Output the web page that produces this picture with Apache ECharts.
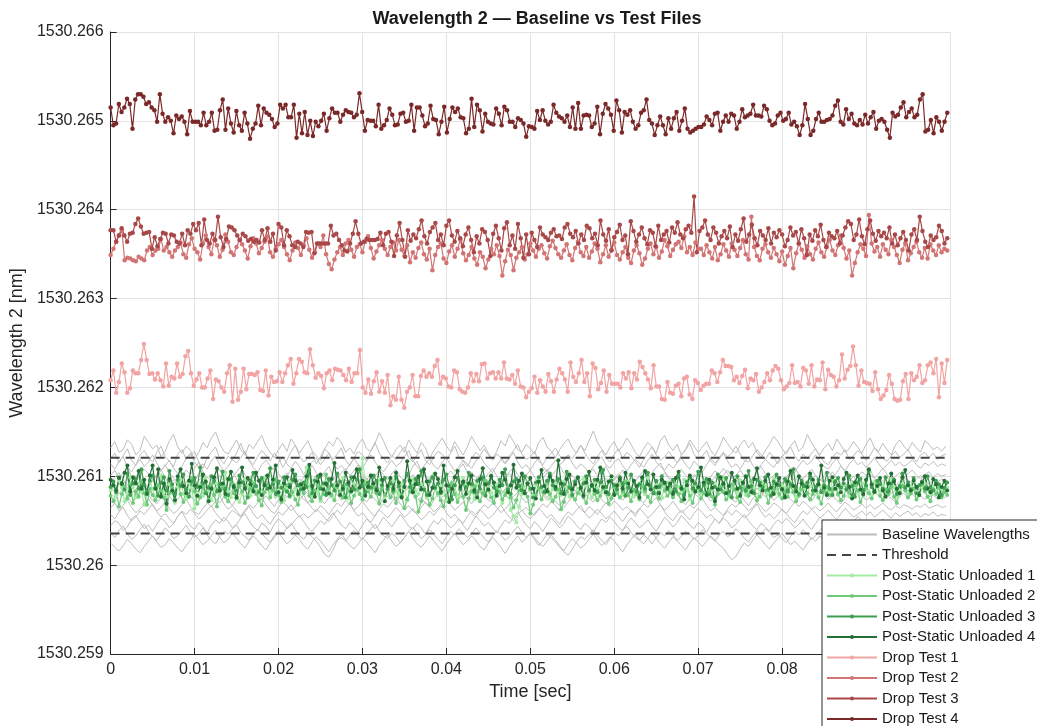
<!DOCTYPE html>
<html>
<head>
<meta charset="utf-8">
<title>Wavelength 2 — Baseline vs Test Files</title>
<script src="https://cdn.jsdelivr.net/npm/echarts@6/dist/echarts.min.js"></script>
<style>
html,body{margin:0;padding:0;background:#fff;}
#chart{width:1037px;height:726px;}
</style>
</head>
<body>
<div id="chart"></div>
<script>
/*
* Wavelength 2 - baseline vs test files
* values are offsets above 1530.26 nm, in units of 1e-5 nm
* */
var BASE = 1530.26, UNIT = 1e-5, SPAN = 0.1;
var yMin = 1530.259, yMax = 1530.266, yStep = 0.001;
var xMin = 0, xMax = 0.1, xStep = 0.01;

var thresholdUpper = 121;
var thresholdLower = 35.5;

var dropTest4 = [
515,495,497,519,510,515,525,519,491,524,530,530,527,519,521,515,512,499,530,508,
499,504,500,486,506,502,505,499,485,511,499,499,499,495,509,495,499,509,489,490,
512,524,490,514,497,487,511,495,489,509,497,480,491,497,517,495,514,509,507,502,
493,497,518,514,518,504,504,518,481,508,486,510,484,500,483,499,494,500,508,489,
503,514,509,509,499,507,512,510,509,504,507,531,510,489,501,500,500,494,518,491,
495,501,514,507,495,496,508,
509,499,500,518,489,515,515,506,494,497,517,502,501,485,499,516,487,502,515,510,
514,504,503,486,491,525,493,518,512,488,508,499,497,496,514,508,495,516,512,499,
499,493,503,501,497,482,494,493,491,511,501,512,500,496,499,518,509,505,503,499,
506,493,515,491,520,491,506,507,506,493,497,516,485,508,519,514,507,489,523,512,
487,510,507,512,499,491,495,509,512,524,501,497,484,495,505,495,485,503,491,503,
510,489,500,514,491,487,489,491,493,
493,496,505,501,495,508,509,489,499,506,499,508,506,491,499,513,504,506,508,518,
506,506,505,517,513,500,495,497,506,509,500,502,509,496,499,494,484,495,519,502,
484,489,502,509,499,499,501,502,506,517,523,499,496,513,502,508,497,495,501,496,
507,497,504,510,491,500,502,499,490,481,509,505,507,515,521,504,510,514,504,507,
524,530,488,490,501,486,504,499,489,499,509
];

var dropTest3 = [
377,377,364,371,379,371,364,373,374,384,390,381,373,374,375,356,369,359,367,374,
373,362,372,371,364,362,373,360,377,373,384,377,385,360,389,366,362,373,366,392,
369,358,367,381,380,377,371,366,373,370,365,367,364,366,363,377,366,379,364,373,
354,384,380,360,377,370,360,358,364,362,358,375,374,375,351,362,362,362,362,362,
382,371,373,366,360,354,353,362,373,387,373,362,364,367,366,366,366,367,374,360,
373,375,364,348,371,385,366,347,377,
365,372,368,378,388,370,362,375,380,385,366,372,360,382,388,371,364,376,368,359,
372,380,366,352,370,362,378,375,366,348,373,382,368,354,379,386,360,371,356,384,
368,346,372,350,374,366,358,380,372,369,366,374,378,370,371,367,380,384,373,369,
376,362,372,366,382,379,368,373,360,388,372,365,378,354,369,375,383,366,371,350,
387,376,364,372,380,368,361,377,374,359,382,366,372,376,363,380,374,386,372,368,
378,382,374,415,352,376,380,
388,372,366,380,374,362,370,376,368,381,358,372,365,378,390,364,372,383,368,360,
376,371,366,379,362,374,369,377,372,359,366,380,371,375,362,378,368,349,372,365,
377,370,383,366,358,374,370,368,376,362,371,380,387,384,366,372,389,370,361,378,
388,373,365,376,370,374,368,380,362,372,360,368,375,366,354,372,378,366,392,376,
364,358,371,366,369,382,376,362,368
];

var dropTest2 = [
349,356,364,371,377,343,346,345,343,342,347,345,343,354,358,349,354,356,367,354,
358,352,347,354,358,363,350,346,361,368,356,352,344,362,371,358,350,366,360,347,
355,372,364,352,349,358,366,361,354,345,359,368,362,351,357,364,370,352,347,356,
361,366,358,350,343,354,363,357,349,360,368,355,346,352,362,358,371,350,339,333,
344,352,358,349,362,366,355,347,358,361,352,364,370,357,345,353,360,366,356,349,
358,363,354,366,
355,348,360,341,352,346,357,363,350,344,356,332,349,358,362,345,340,353,360,347,
356,366,351,343,349,358,345,338,352,347,334,344,356,350,360,348,326,342,355,349,
332,346,352,358,344,350,362,354,347,356,360,351,345,359,365,357,350,346,354,361,
349,343,357,364,352,348,358,346,353,362,356,341,350,360,347,355,363,349,344,352,
358,346,340,354,360,351,338,345,356,362,350,358,346,353,366,359,348,355,361,364,
357,370,352,358,349,363,356,
356,349,360,352,345,358,343,350,361,354,347,362,355,348,357,366,350,344,392,358,
348,343,356,361,352,346,357,350,342,353,338,348,357,334,351,362,355,346,359,350,
344,356,363,352,347,358,366,354,349,360,371,357,345,354,326,340,352,361,356,348,
394,362,353,358,347,361,355,350,366,358,349,340,355,362,343,351,358,364,352,346,
357,345,361,354,349,360,352,356,354
];

var dropTest1 = [
208,219,194,206,227,217,194,199,219,216,216,231,249,231,215,216,209,216,208,201,
227,202,212,210,227,212,215,235,241,216,202,209,216,200,200,210,219,187,209,207,
200,195,216,225,184,221,186,195,221,198,215,215,214,217,197,196,219,191,212,206,
207,217,206,216,225,232,204,216,232,229,217,216,243,225,211,216,213,199,216,219,
208,221,220,219,214,208,221,206,216,216,242,200,194,209,193,207,217,195,207,194,
214,180,190,186,
212,186,177,195,200,214,190,190,213,219,212,216,212,224,231,204,212,210,201,200,
219,217,198,195,194,200,216,207,215,207,226,227,210,216,217,210,217,210,228,210,
209,214,204,219,201,200,189,195,199,212,194,208,201,195,215,207,195,209,221,216,
209,195,228,212,206,216,231,206,216,190,227,222,198,205,219,195,214,204,204,204,
200,216,210,217,199,216,209,229,223,216,209,199,225,201,201,187,186,206,194,193,
202,204,190,210,212,192,187,208,
205,197,202,204,204,219,216,206,217,231,224,224,223,208,212,205,213,220,199,210,
208,215,195,200,206,216,208,219,224,221,208,198,201,205,225,205,206,201,222,219,
204,225,201,209,208,228,198,220,214,212,201,208,237,210,220,224,246,225,202,219,
206,205,204,196,217,198,187,191,197,214,204,187,185,186,207,215,187,216,208,212,
225,205,208,225,228,216,232,189,227,205,231
];

var postStatic4 = [
96,90,84,98,92,104,112,83,99,92,106,86,96,80,101,112,86,108,77,92,
69,97,84,73,100,108,89,81,95,114,90,78,88,102,94,72,86,99,109,84,
92,80,97,105,88,76,93,110,86,98,91,83,104,95,79,90,101,87,96,112,
82,74,92,99,88,107,95,80,91,86,100,113,89,77,94,102,85,92,81,97,
115,90,79,86,104,93,83,99,108,87,95,78,88,101,92,84,110,96,72,89,
98,86,104,93,76,88,117,95,82,91,100,85,108,94,79,87,103,97,83,112,
90,71,86,99,106,88,94,80,92,101,84,76,97,109,91,85,100,93,78,89,
104,96,82,90,113,87,95,103,81,92,98,86,75,94,107,89,83,100,95,88,
118,92,80,97,102,85,91,99,87,78,93,105,90,84,96,110,88,82,94,100,
79,90,97,86,104,92,83,95,89,76,99,106,91,85,102,88,81,96,93,87,
92,80,98,105,86,74,90,101,95,83,88,110,93,79,96,87,72,85,99,92,
81,89,104,95,86,78,93,100,88,82,97,109,90,84,95,102,87,80,91,98,
85,76,94,106,89,83,100,92,78,88,103,96,84,91,112,87,79,95,99,86,
90,82,97,104,88,75,93,101,85,80,96,108,91,83,89,98,84,77,92,103,
94,86,81,99,107,90,84,95,88,79,93,100,86,82,97,91,76,88,95,84
];

var postStatic3 = [
88,94,82,99,91,85,103,79,92,97,86,108,90,83,95,101,87,78,93,99,
84,106,91,80,96,89,102,85,77,94,98,88,110,92,81,87,100,95,83,91,
105,86,79,97,90,84,101,93,88,76,95,104,89,82,98,92,86,109,91,80,
94,87,99,83,78,96,102,90,85,93,88,107,81,95,100,86,92,79,97,90,
84,103,94,88,76,91,99,85,96,108,89,82,93,87,101,95,80,90,98,86,
92,84,100,89,77,95,103,88,83,97,91,106,85,79,94,99,87,92,81,96,
102,89,74,90,98,85,93,88,104,91,82,95,86,99,78,92,101,87,83,96,
90,108,85,80,94,97,89,84,100,92,86,76,93,99,88,82,95,103,90,85,
97,81,91,105,87,79,94,98,86,92,100,84,89,96,82,93,107,88,80,95,
90,85,99,92,78,87,102,94,83,91,97,86,104,89,81,95,88,100,92,85,
90,96,83,101,88,79,94,99,86,92,105,84,90,97,80,93,88,102,85,91,
98,83,76,95,100,87,92,84,106,89,81,96,93,88,99,85,78,94,102,90,
86,97,83,91,108,87,80,95,89,93,100,84,88,96,82,90,104,86,79,94,
98,87,92,85,101,89,77,93,97,84,90,106,88,82,95,91,86,99,83,92,
96,80,89,103,87,93,85,98,81,90,94,86,100,88,84,95,91,79,87,93
];

var postStatic2 = [
78,72,84,66,80,88,75,92,70,83,77,95,81,68,86,79,73,90,84,76,
62,81,87,74,93,80,71,85,78,98,83,69,76,88,82,74,91,79,66,84,
87,77,72,95,81,75,89,83,70,78,86,92,80,73,67,82,88,76,84,97,
79,71,85,90,77,82,74,68,87,81,93,78,72,84,89,75,80,102,86,79,
73,88,82,76,91,84,70,78,85,80,74,92,83,77,88,81,69,86,79,84,
76,82,70,88,79,64,74,83,90,77,60,72,85,80,68,75,87,81,73,66,
78,84,92,80,71,86,77,62,75,83,89,79,72,81,95,84,76,70,87,82,
74,79,88,76,65,73,84,90,81,77,58,68,79,86,74,82,93,80,72,77,
85,63,71,83,89,78,74,81,87,76,70,84,91,80,73,78,86,82,69,75,
88,81,76,83,94,79,72,85,80,74,89,83,77,71,86,81,75,92,84,78,
82,76,89,80,72,85,93,78,70,83,87,75,81,96,84,77,68,80,88,82,
74,79,91,85,76,71,86,83,78,94,81,73,77,88,84,70,79,86,92,80,
75,83,77,89,82,72,78,85,90,81,74,80,87,76,69,83,88,79,84,95,
80,73,78,86,82,76,90,84,71,79,87,81,75,83,92,78,73,85,80,88,
77,70,82,89,84,76,81,86,74,79,91,83,77,72,85,80,88,76,82,79
];

var postStatic1 = [
84,90,78,95,87,72,81,99,88,76,92,83,68,79,94,86,74,89,101,82,
77,91,85,70,88,96,80,75,93,87,64,81,90,78,98,84,73,86,92,79,
88,104,83,76,91,85,71,80,97,89,78,93,86,74,82,99,88,81,95,77,
84,90,73,87,94,80,86,78,92,85,110,88,79,96,83,72,89,93,84,77,
91,86,81,98,88,75,83,92,87,80,120,94,85,78,90,82,96,88,76,84,
89,95,83,78,92,86,73,88,97,84,80,91,87,76,94,100,85,79,90,83,
72,86,93,88,77,84,98,90,81,87,74,92,85,79,95,89,82,76,91,86,
70,83,88,62,55,48,66,80,87,93,84,78,90,96,85,81,89,75,86,92,
83,79,94,88,77,84,91,86,80,97,89,82,76,93,87,81,90,85,78,96,
88,83,91,79,86,94,82,77,89,92,84,80,98,87,81,90,85,76,88,93,
85,79,91,88,82,96,86,74,83,90,87,80,94,89,78,85,92,81,88,99,
84,77,90,86,82,95,88,79,84,91,87,73,86,93,89,80,85,97,83,78,
90,87,81,94,88,76,84,92,86,80,89,95,83,78,88,91,85,82,96,87,
79,84,90,86,77,93,88,81,85,92,89,83,78,94,87,82,90,85,80,97,
88,76,84,91,86,81,89,94,83,79,87,92,85,80,88,84,90,86,82,87
];

var baseline1 = [
132,139,127,130,141,136,124,129,145,138,131,135,122,128,140,147,133,126,134,129,
119,127,138,132,143,150,137,128,125,133,141,130,124,136,131,139,146,134,127,121,
130,137,128,142,135,126,133,140,129,123,118,131,139,134,144,138,127,132,125,136,
142,131,128,137,149,140,129,122,130,135,127,141,133,126,138,132,120,129,136,143,
134,128,139,131,124,133,145,137,129,135,126,119,128,140,134,147,139,130,127,136,
131,125,138,144,133,128,121,130,137,142,132,126,135,129,140,151,138,131,124,133,
139,128,134,143,136,127,122,131,138,133,126,140,146,135,129,136,124,130,141,134,
127,133,139,129,123,132,144,137,130,126,135,141,132,138,127,121,129,136,145,139,
131,125,134,140,128,133,147,138,130,124,132,137,129,142,135,127,131,139,133,126,
136,143,132,128,137,130,124,135,141,134,129,138,132,127,140,136,130,133,128,134
];
var baseline2 = [
120,126,115,123,131,118,112,124,129,121,116,127,134,122,117,111,125,130,119,124,
128,116,109,121,127,133,120,114,123,118,126,137,125,119,113,122,129,124,117,126,
121,110,118,128,135,123,116,120,127,114,122,131,126,119,125,132,118,112,121,128,
124,117,129,138,126,120,115,123,119,127,133,121,116,124,130,118,113,122,128,125,
119,126,134,122,117,111,120,127,123,131,124,118,125,121,115,123,129,136,125,119,
122,128,117,113,121,126,132,123,118,124,120,127,135,126,119,114,122,129,121,116,
125,131,120,127,123,117,110,119,126,133,124,118,122,128,121,115,124,130,137,125,
119,123,129,117,112,121,127,122,126,134,125,118,116,123,130,124,119,127,121,114,
122,128,133,123,117,125,120,126,131,122,116,113,121,127,124,130,119,123,129,125,
118,124,132,126,120,117,123,128,121,125,130,122,116,124,127,121,126,119,123,125
];
var baseline3 = [
114,108,117,122,110,105,113,119,111,116,124,115,107,112,118,109,103,111,120,126,
116,110,114,108,117,123,113,106,111,119,115,121,128,117,110,104,113,118,112,107,
115,122,114,109,117,111,102,110,116,121,113,119,126,115,108,112,106,114,120,113,
109,117,124,116,110,105,112,118,111,115,122,129,118,111,107,114,120,112,108,116,
121,113,106,111,118,114,109,117,123,115,110,104,112,119,114,120,127,116,109,113,
107,115,121,111,105,112,118,113,117,124,115,108,114,110,103,111,117,122,113,109,
116,120,112,106,113,119,115,110,118,125,116,111,107,114,109,115,121,113,108,117,
112,105,113,120,115,119,126,117,110,114,108,116,122,112,107,113,119,114,110,117,
123,115,109,104,112,118,113,117,124,116,111,108,115,120,112,106,114,119,113,116,
110,115,121,114,108,113,118,112,116,111,114,119,113,109,115,112,117,111,114,112
];
var baseline4 = [
101,107,97,104,110,99,94,102,108,103,96,100,106,113,104,98,93,101,107,102,
109,116,105,99,95,103,108,100,94,98,105,111,102,97,104,99,92,100,106,110,
103,97,101,107,98,93,99,105,112,104,98,102,96,90,98,104,109,101,106,113,
103,97,94,100,107,102,96,103,108,99,95,101,111,117,106,100,96,102,98,93,
100,106,101,108,114,104,98,95,102,97,103,109,100,94,99,105,110,102,96,101,
107,99,92,98,104,100,106,112,103,97,101,95,89,97,103,108,101,105,111,102,
96,100,107,103,98,94,101,106,99,104,110,115,105,99,96,102,108,101,95,99,
104,98,93,100,106,102,109,103,97,101,107,100,94,98,105,111,103,97,101,96,
92,99,105,110,102,97,103,108,100,95,101,106,99,104,112,105,98,94,100,105,
101,107,98,103,109,102,96,100,104,99,103,107,101,97,102,105,99,103,100,102
];
var baseline5 = [
93,99,104,96,90,94,101,97,92,87,95,102,108,98,92,96,89,85,93,100,
95,103,97,91,88,96,101,94,99,106,97,90,86,93,98,94,100,95,89,84,
92,99,104,96,91,97,93,87,95,101,98,105,111,100,93,89,96,92,86,94,
100,96,103,97,90,94,99,93,88,82,91,97,102,95,89,93,98,104,96,91,
87,94,100,97,92,98,105,99,93,88,95,91,85,92,99,103,96,90,94,100,
95,89,96,102,108,98,92,97,93,87,94,99,95,101,96,90,86,93,98,92,
97,103,98,92,88,95,100,96,90,85,92,98,104,97,93,99,94,89,96,102,
97,91,87,94,99,95,101,107,99,93,89,96,92,98,103,96,90,94,88,84,
91,97,102,95,100,94,89,96,101,97,92,98,105,98,92,88,95,100,94,90,
96,102,97,91,95,99,93,89,94,98,96,92,97,101,95,91,96,93,97,95
];
var baseline6 = [
88,83,91,96,87,81,85,92,86,79,84,90,97,89,83,78,86,93,88,82,
87,95,101,91,85,80,88,84,77,85,92,98,89,83,87,81,76,84,90,86,
93,88,82,79,86,91,85,80,88,95,90,84,78,83,89,94,87,81,86,92,
99,90,84,80,87,83,77,84,91,87,93,86,80,85,90,84,79,87,94,89,
83,88,82,75,83,89,93,86,81,87,92,88,83,79,86,91,97,89,84,80,
86,92,87,81,76,84,90,85,91,96,88,82,86,80,85,92,87,82,78,85,
91,97,89,83,88,84,78,86,92,87,81,85,90,95,88,82,79,86,91,85,
80,87,94,89,83,79,85,90,86,92,98,90,84,80,87,82,77,84,89,85,
91,86,81,87,93,88,83,78,85,90,86,82,88,94,89,84,80,86,91,87,
82,86,92,88,83,87,81,85,90,86,84,88,83,87,85,89,84,86,88,86
];
var baseline7 = [
78,72,81,86,77,70,75,82,88,79,73,69,76,83,78,71,74,80,85,78,
72,77,84,90,81,74,70,77,73,67,75,82,77,83,88,79,73,78,72,66,
74,80,76,83,89,80,74,70,77,81,75,69,76,84,79,73,78,85,91,82,
75,71,78,74,68,76,82,78,72,77,83,87,79,73,76,70,65,73,80,76,
82,88,80,74,79,75,69,77,84,79,73,71,78,85,80,74,77,82,76,70,
74,81,87,79,73,77,72,67,75,81,77,84,90,81,75,71,78,74,69,76,
82,78,73,79,86,80,74,70,77,83,78,72,76,81,87,79,73,68,75,81,
77,83,78,72,76,82,88,80,74,71,78,73,67,75,81,77,84,79,73,77,
83,79,74,70,77,82,76,72,79,85,80,74,78,73,69,76,82,78,84,79,
73,77,83,78,74,79,75,71,77,81,76,80,75,78,74,77,79,75,78,76
];
var baseline8 = [
64,70,61,67,73,65,59,63,69,75,67,61,65,71,64,58,62,68,74,66,
60,57,64,70,66,72,78,69,63,67,61,55,62,68,64,70,76,68,62,58,
65,71,67,61,66,73,79,70,64,60,67,63,57,64,70,66,73,68,62,66,
72,65,59,55,63,69,65,71,77,69,63,67,61,58,65,71,66,60,64,70,
76,68,62,66,71,64,58,54,62,68,64,70,65,59,63,69,75,67,61,65,
60,56,63,69,65,72,67,61,65,71,77,69,63,59,66,62,57,64,70,66,
72,68,62,66,61,55,63,69,65,71,76,68,62,66,72,65,59,63,68,64,
70,75,67,61,65,60,56,63,69,65,71,67,61,65,71,66,60,64,70,67,
62,58,65,71,66,72,68,63,66,61,65,70,64,60,66,71,67,62,65,69,
64,68,63,66,70,65,62,67,64,68,66,63,67,65,69,64,66,68,65,66
];
var baseline9 = [
57,52,60,65,56,50,54,61,57,63,69,60,54,58,52,47,55,61,57,63,
58,52,56,62,67,59,53,49,56,62,58,54,60,66,58,52,57,51,46,54,
60,56,62,68,60,54,58,53,57,63,59,53,49,56,62,57,64,70,61,55,
59,53,48,56,62,58,53,59,65,60,54,58,64,57,51,55,61,56,62,67,
59,53,57,51,47,55,61,57,63,58,52,56,62,68,60,54,50,57,62,56,
52,58,64,59,53,57,51,46,54,60,56,62,67,59,53,57,63,58,52,56,
61,55,49,56,62,58,64,59,53,57,63,68,60,54,50,57,62,56,51,58,
64,59,53,57,52,47,55,61,56,62,58,53,57,63,69,60,54,58,52,57,
63,58,52,48,55,61,57,63,58,53,57,62,56,51,58,64,59,54,57,61,
56,60,54,58,62,57,53,59,55,58,61,56,59,54,58,56,60,55,57,56
];
var baseline10 = [
44,50,47,39,43,52,56,48,41,45,38,46,53,49,42,47,55,60,51,44,
40,48,43,36,45,51,47,54,49,42,46,53,58,50,43,39,47,44,37,46,
52,48,41,45,51,56,49,42,38,44,50,46,53,59,52,45,41,48,43,37,
45,52,47,41,46,54,49,43,50,57,51,44,40,47,42,35,43,50,46,53,
48,42,46,52,45,39,47,55,50,44,48,42,36,44,51,47,54,60,52,45,
41,49,44,38,46,53,48,42,47,55,51,45,40,47,43,37,45,52,48,54,
49,43,39,47,53,48,42,46,51,44,38,46,54,49,43,48,56,51,45,41,
48,44,37,45,52,47,53,49,42,46,52,57,50,44,40,47,43,38,46,51,
47,53,48,42,46,52,45,40,47,54,49,43,39,46,51,47,42,48,55,50,
44,48,43,47,52,46,41,48,45,50,46,43,48,51,46,44,49,45,47,46
];
var baseline11 = [
37,31,39,44,35,29,33,40,46,38,32,28,35,42,37,30,33,39,45,37,
31,35,42,34,28,24,32,38,35,41,45,37,32,28,35,40,36,30,26,33,
39,35,42,47,40,33,29,36,32,27,20,12,9,17,28,31,27,34,39,33,
29,35,41,46,39,33,30,36,32,25,31,38,43,36,30,34,40,35,29,24,
32,38,34,41,36,31,35,42,37,30,26,33,39,34,28,32,38,44,37,31,
35,29,22,28,35,31,26,20,15,11,18,26,32,29,35,40,33,28,23,30,
37,33,39,44,37,31,28,34,30,24,31,37,33,39,34,28,32,38,35,29,
33,40,36,31,27,34,38,32,35,41,36,30,26,33,39,35,41,37,31,34,
30,25,32,38,34,40,35,29,33,39,44,37,31,27,34,30,36,42,37,32,
35,30,34,39,35,31,36,33,37,34,31,35,38,33,36,34,37,32,35,34
];
var baseline12 = [
25,20,16,22,29,24,18,14,21,27,33,26,20,23,30,25,19,15,22,28,
35,29,23,27,33,39,31,25,29,36,30,24,19,27,33,28,22,17,25,31,
37,30,24,28,34,29,22,18,26,32,27,21,15,23,29,35,28,22,18,24,
31,26,20,14,22,28,34,27,21,25,31,38,30,24,20,26,33,27,21,16,
24,30,36,29,23,27,33,28,21,17,25,31,26,20,13,21,27,33,26,30,
37,31,25,21,27,34,28,22,16,24,30,25,19,23,29,35,28,22,26,32,
27,21,15,23,29,35,28,24,30,37,30,24,19,26,32,27,22,17,25,31,
26,21,27,33,28,23,19,12,6,10,18,25,21,28,34,29,23,18,25,30,
36,29,23,27,22,17,24,31,27,33,28,22,26,32,27,21,25,30,35,29,
24,28,23,27,31,26,22,28,24,27,30,25,28,23,27,25,29,24,26,25
];

var baselines = [baseline1, baseline2, baseline3, baseline4, baseline5, baseline6,
                 baseline7, baseline8, baseline9, baseline10, baseline11, baseline12];

var FONT = '"Liberation Sans", Arial, Helvetica, sans-serif';

//把偏移量转换成 [时间, 波长]
function toPoints(arr){
    var dt = SPAN / arr.length;
    return arr.map(function(v, i){
        return [i * dt, +(BASE + v * UNIT).toFixed(7)];
    });
}

function markerSeries(name, arr, color, size){
    return {
        name : name,
        type : 'line',
        data : toPoints(arr),
        symbol : 'circle',
        symbolSize : size,
        showSymbol : true,
        lineStyle : { color : color, width : 1.2 },
        itemStyle : { color : color },
        emphasis : { disabled : true },
        silent : true
    };
}

var series = [];
baselines.forEach(function(b){
    series.push({
        name : 'Baseline Wavelengths',
        type : 'line',
        data : toPoints(b),
        symbol : 'none',
        lineStyle : { color : '#bdbdbd', width : 1 },
        itemStyle : { color : '#bdbdbd' },
        emphasis : { disabled : true },
        silent : true
    });
});
[thresholdUpper, thresholdLower].forEach(function(th){
    var v = +(BASE + th * UNIT).toFixed(7);
    series.push({
        name : 'Threshold',
        type : 'line',
        data : [[xMin, v], [xMax, v]],
        symbol : 'none',
        lineStyle : { color : '#444444', width : 2, type : [9, 6] },
        itemStyle : { color : '#444444' },
        emphasis : { disabled : true },
        silent : true
    });
});
series.push(markerSeries('Post-Static Unloaded 1', postStatic1, '#a5eba5', 4));
series.push(markerSeries('Post-Static Unloaded 2', postStatic2, '#6fcb7b', 4));
series.push(markerSeries('Post-Static Unloaded 3', postStatic3, '#3f9e51', 4));
series.push(markerSeries('Post-Static Unloaded 4', postStatic4, '#236f36', 4));
series.push(markerSeries('Drop Test 1', dropTest1, '#f2a3a3', 4.5));
series.push(markerSeries('Drop Test 2', dropTest2, '#d27474', 4.5));
series.push(markerSeries('Drop Test 3', dropTest3, '#a84848', 4.5));
series.push(markerSeries('Drop Test 4', dropTest4, '#7a2828', 4.5));

function trimNum(v, d){
    return String(Number(v.toFixed(d)));
}

var myChart = echarts.init(document.getElementById('chart'), null, { renderer : 'canvas' });
var option = {
    animation : false,
    backgroundColor : '#ffffff',
    title : {
        text : 'Wavelength 2 — Baseline vs Test Files',
        left : 532,
        top : 5,
        textAlign : 'center',
        textStyle : { fontFamily : FONT, fontSize : 18, fontWeight : 'bold', color : '#1a1a1a' }
    },
    grid : { left : 110, right : 87, top : 32, bottom : 72, containLabel : false },
    legend : {
        orient : 'vertical',
        left : 822,
        top : 520,
        height : 260,
        itemWidth : 50,
        itemHeight : 5,
        itemGap : 5.5,
        padding : [7, 6, 6, 4],
        backgroundColor : '#ffffff',
        borderColor : '#262626',
        borderWidth : 1,
        borderRadius : 0,
        selectedMode : false,
        textStyle : { fontFamily : FONT, fontSize : 15, color : '#1a1a1a' },
        data : [
            { name : 'Baseline Wavelengths', itemStyle : { opacity : 0 } },
            { name : 'Threshold', itemStyle : { opacity : 0 } },
            'Post-Static Unloaded 1', 'Post-Static Unloaded 2',
            'Post-Static Unloaded 3', 'Post-Static Unloaded 4',
            'Drop Test 1', 'Drop Test 2', 'Drop Test 3', 'Drop Test 4'
        ]
    },
    xAxis : {
        type : 'value',
        min : xMin, max : xMax, interval : xStep,
        name : 'Time [sec]',
        nameLocation : 'middle',
        nameGap : 29,
        nameTextStyle : { fontFamily : FONT, fontSize : 18, color : '#262626' },
        axisLine : { show : true, onZero : false, lineStyle : { color : '#262626', width : 1 } },
        axisTick : { show : true, inside : true, length : 6, lineStyle : { color : '#262626' } },
        axisLabel : {
            fontFamily : FONT, fontSize : 16, color : '#262626', margin : 8,
            formatter : function(v){ return trimNum(v, 2); }
        },
        splitLine : { show : true, lineStyle : { color : '#e2e2e2', width : 1 } }
    },
    yAxis : {
        type : 'value',
        min : yMin, max : yMax, interval : yStep,
        name : 'Wavelength 2 [nm]',
        nameLocation : 'middle',
        nameRotate : 90,
        nameGap : 80,
        nameTextStyle : { fontFamily : FONT, fontSize : 18, color : '#262626' },
        axisLine : { show : true, lineStyle : { color : '#262626', width : 1 } },
        axisTick : { show : true, inside : true, length : 6, lineStyle : { color : '#262626' } },
        axisLabel : {
            fontFamily : FONT, fontSize : 16, color : '#262626', margin : 7,
            formatter : function(v){ return trimNum(v, 3); }
        },
        splitLine : { show : true, lineStyle : { color : '#e2e2e2', width : 1 } }
    },
    series : series
};
myChart.setOption(option);
</script>
</body>
</html>
